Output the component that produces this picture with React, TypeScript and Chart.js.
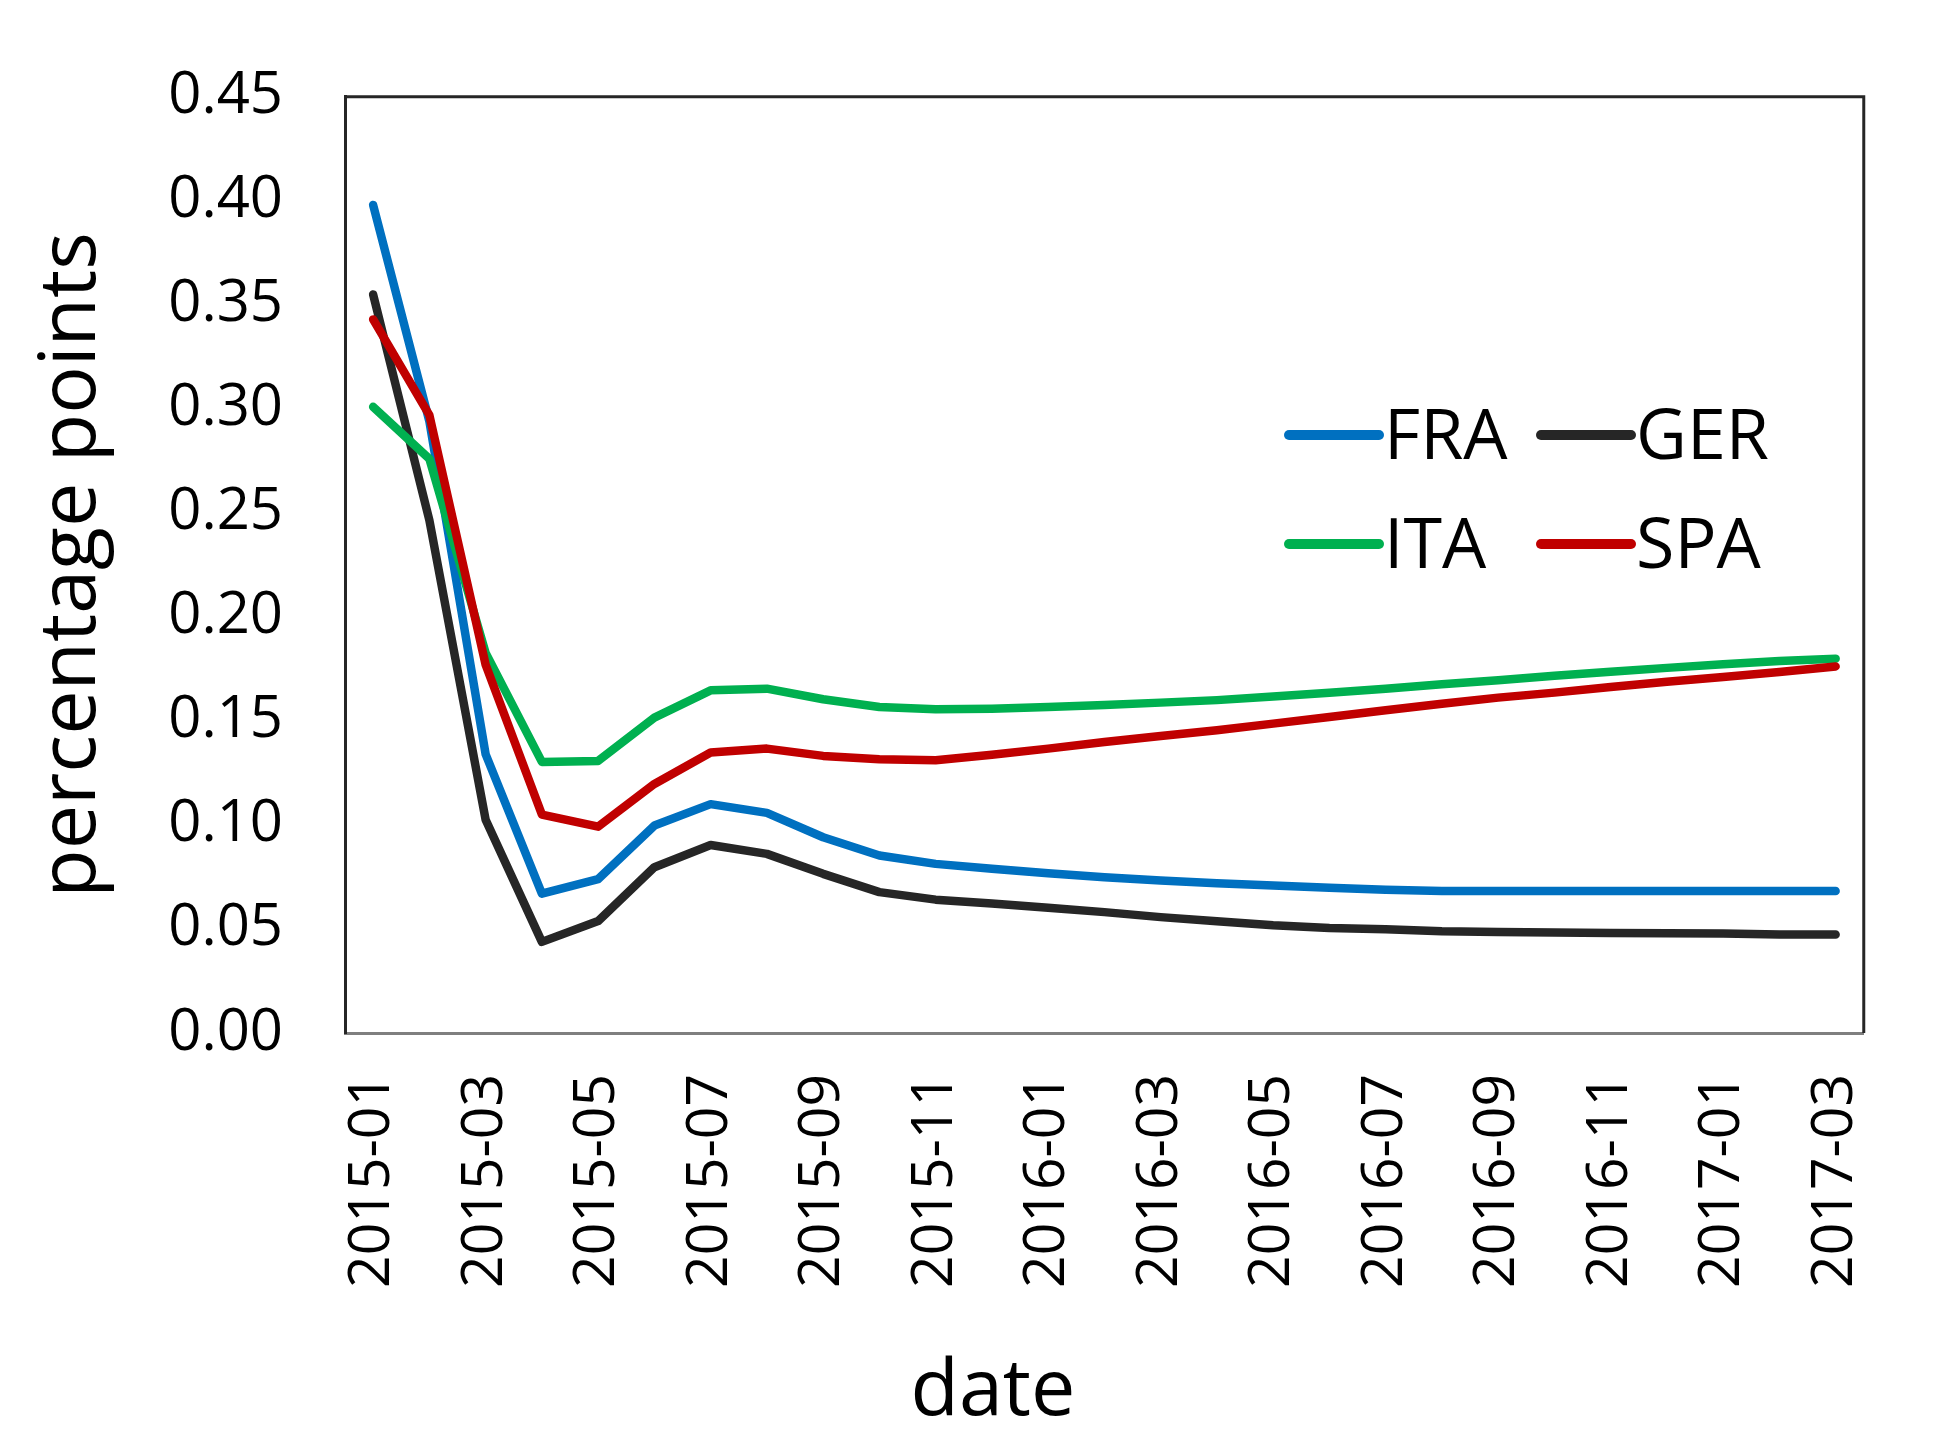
import React, { useEffect, useRef } from 'react';
import { Chart, registerables } from 'chart.js';

Chart.register(...registerables);

const months: string[] = [
  '2015-01', '2015-02', '2015-03', '2015-04', '2015-05', '2015-06', '2015-07', '2015-08', '2015-09',
  '2015-10', '2015-11', '2015-12', '2016-01', '2016-02', '2016-03', '2016-04', '2016-05', '2016-06',
  '2016-07', '2016-08', '2016-09', '2016-10', '2016-11', '2016-12', '2017-01', '2017-02', '2017-03',
];

const fra: number[] = [
  0.398, 0.294, 0.134, 0.067, 0.074, 0.0997, 0.110, 0.1058, 0.0941,
  0.0853, 0.0813, 0.0789, 0.0768, 0.0749, 0.0733, 0.0720, 0.0709, 0.0698,
  0.0688, 0.0682, 0.0682, 0.0682, 0.0682, 0.0682, 0.0682, 0.0682, 0.0682,
];

const ger: number[] = [
  0.355, 0.2465, 0.1025, 0.0438, 0.0538, 0.0797, 0.0904, 0.0861, 0.0765,
  0.0677, 0.0641, 0.0622, 0.0602, 0.0581, 0.0557, 0.0537, 0.0518, 0.0505,
  0.0499, 0.0489, 0.0485, 0.0483, 0.0481, 0.0479, 0.0478, 0.0474, 0.0474,
];

const ita: number[] = [
  0.301, 0.276, 0.1827, 0.1303, 0.1308, 0.1516, 0.1647, 0.1655, 0.1604,
  0.1567, 0.1556, 0.1559, 0.1567, 0.1577, 0.1588, 0.1600, 0.1617, 0.1636,
  0.1655, 0.1676, 0.1696, 0.1717, 0.1736, 0.1755, 0.1772, 0.1788, 0.1799,
];

const spa: number[] = [
  0.343, 0.297, 0.177, 0.105, 0.0992, 0.1197, 0.1348, 0.1367, 0.1332,
  0.1316, 0.1311, 0.1337, 0.1367, 0.1399, 0.1428, 0.1455, 0.1487, 0.1519,
  0.1551, 0.1583, 0.1612, 0.1636, 0.1663, 0.1688, 0.1711, 0.1735, 0.1762,
];

const FONT = "'Open Sans', 'Noto Sans', sans-serif";

// cadre (haut + droite) et légende dans la zone du graphique
const framePlugin = {
  id: 'frameLegend',
  afterDraw(chart: any) {
    const { ctx, chartArea } = chart;
    ctx.save();
    ctx.strokeStyle = '#262626';
    ctx.lineWidth = 3;
    ctx.beginPath();
    ctx.moveTo(chartArea.left, chartArea.top);
    ctx.lineTo(chartArea.right, chartArea.top);
    ctx.lineTo(chartArea.right, chartArea.bottom);
    ctx.stroke();

    // légende sur 2 colonnes
    const cols = [1276, 1528];
    const rows = [427, 536];
    const order = [0, 1, 2, 3];
    ctx.font = `70px ${FONT}`;
    ctx.textBaseline = 'alphabetic';
    ctx.textAlign = 'left';
    order.forEach((idx, k) => {
      const ds = chart.data.datasets[idx];
      const x = cols[k % 2];
      const y = rows[Math.floor(k / 2)];
      ctx.strokeStyle = ds.borderColor;
      ctx.lineWidth = 10;
      ctx.lineCap = 'round';
      ctx.beginPath();
      ctx.moveTo(x + 5, y);
      ctx.lineTo(x + 95, y);
      ctx.stroke();
      ctx.fillStyle = '#000';
      ctx.fillText(ds.label, x + 100, y + 24);
    });

    // titre de l'axe x
    ctx.font = `79px ${FONT}`;
    ctx.textAlign = 'center';
    ctx.fillText('date', 985, 1407);
    ctx.restore();
  },
};

const App: React.FC = () => {
  const chartRef = useRef<HTMLCanvasElement>(null);
  const chartInstance = useRef<Chart | null>(null);

  useEffect(() => {
    if (chartRef.current) {
      const ctx = chartRef.current.getContext('2d');
      if (chartInstance.current) {
        chartInstance.current.destroy();
      }

      chartInstance.current = new Chart(ctx as CanvasRenderingContext2D, {
        type: 'line',
        data: {
          labels: months,
          datasets: [
            { label: 'FRA', data: fra, borderColor: '#0070C0', order: 3 },
            { label: 'GER', data: ger, borderColor: '#262626', order: 2 },
            { label: 'ITA', data: ita, borderColor: '#00B050', order: 1 },
            { label: 'SPA', data: spa, borderColor: '#C00000', order: 0 },
          ].map((d) => ({
            ...d,
            backgroundColor: d.borderColor,
            borderWidth: 8.5,
            borderCapStyle: 'round' as const,
            borderJoinStyle: 'round' as const,
            pointRadius: 0,
            tension: 0,
            fill: false,
          })),
        },
        options: {
          animation: false,
          responsive: true,
          maintainAspectRatio: false,
          devicePixelRatio: 1,
          layout: { padding: { top: 76, right: 52, left: 0, bottom: 0 } },
          plugins: {
            legend: { display: false },
            tooltip: { enabled: false },
          },
          scales: {
            x: {
              type: 'category',
              offset: true,
              grid: { display: false },
              border: { display: true, color: '#7f7f7f', width: 3 },
              ticks: {
                autoSkip: false,
                maxRotation: 90,
                minRotation: 90,
                padding: 33,
                color: '#000',
                font: { size: 57, family: FONT },
                callback: (_v: any, i: number) => (i % 2 === 0 ? months[i] : ''),
              },
              afterFit: (scale: any) => {
                scale.height = 411;
              },
            },
            y: {
              min: 0,
              max: 0.45,
              grid: { display: false },
              border: { display: true, color: '#262626', width: 3 },
              ticks: {
                stepSize: 0.05,
                padding: 54,
                color: '#000',
                font: { size: 58, family: FONT },
                callback: (v: any) => Number(v).toFixed(2),
              },
              title: {
                display: true,
                text: 'percentage points',
                color: '#000',
                font: { size: 79, family: FONT },
                padding: { top: 17, bottom: 0 },
              },
              afterFit: (scale: any) => {
                scale.width = 337;
              },
            },
          },
        },
        plugins: [framePlugin],
      });
    }

    return () => {
      if (chartInstance.current) {
        chartInstance.current.destroy();
        chartInstance.current = null;
      }
    };
  }, []);

  return (
    <div style={{ position: 'relative', width: 1930, height: 1436 }}>
      <canvas ref={chartRef} />
    </div>
  );
};

export default App;
